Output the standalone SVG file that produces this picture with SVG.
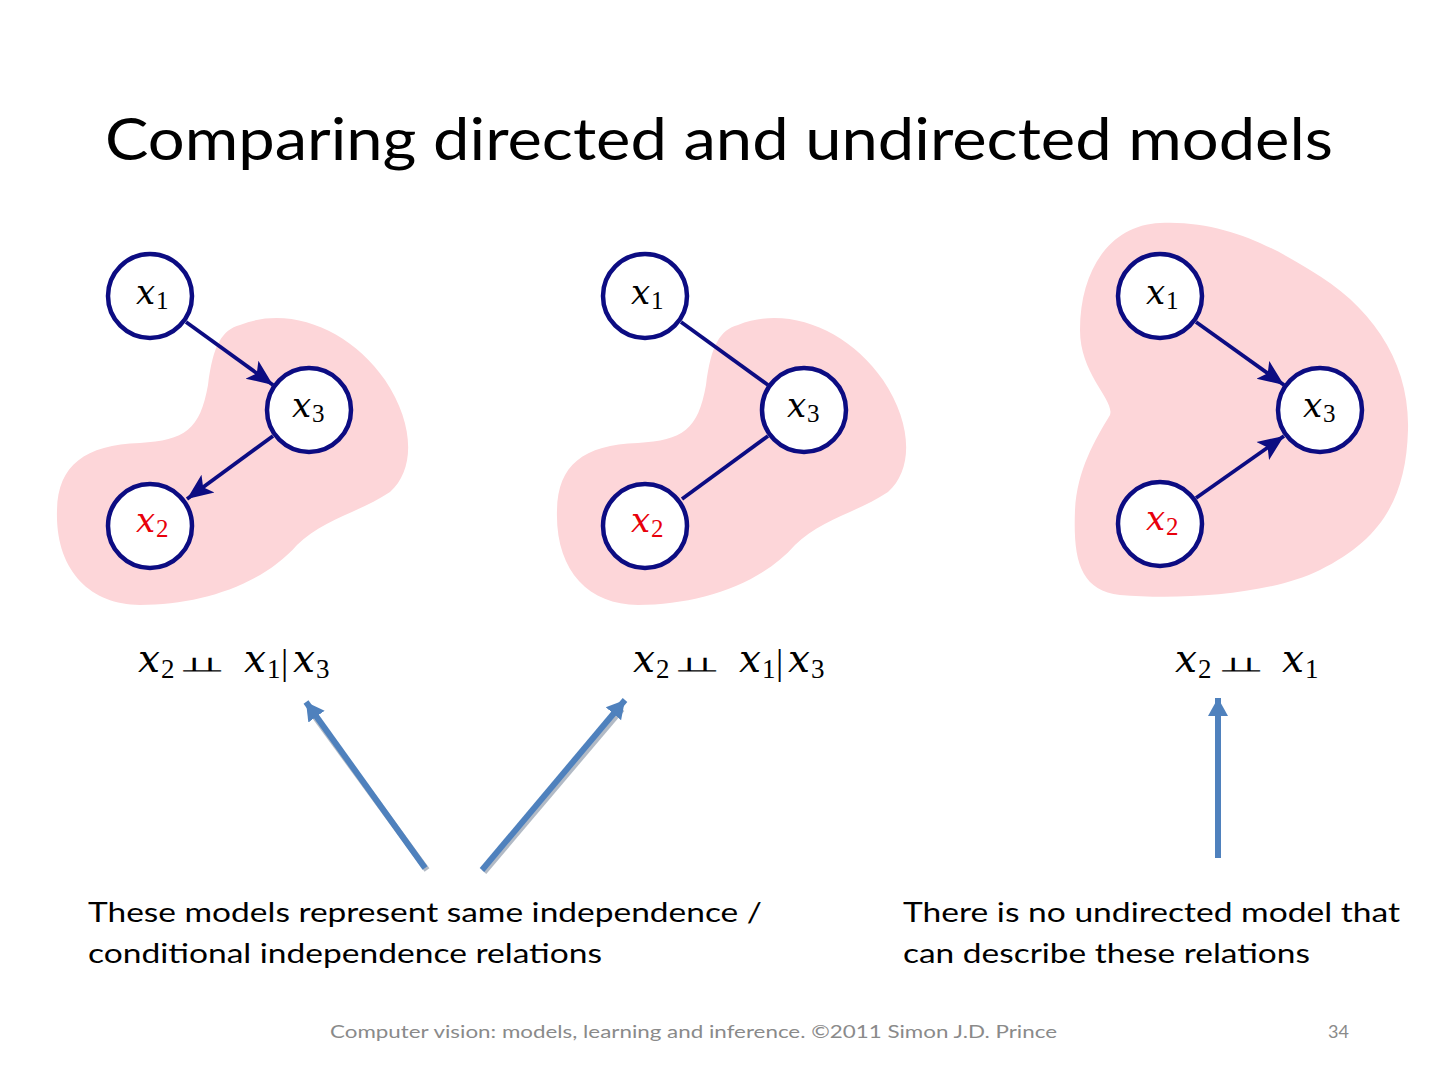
<svg xmlns="http://www.w3.org/2000/svg" width="1440" height="1080" viewBox="0 0 1440 1080">
<defs>
<style>
.blob{fill:#FDD6D9;stroke:none}
.node circle{fill:#fff;stroke:#0C0C82;stroke-width:4.5}
.var{font-family:"DejaVu Serif","Liberation Serif",serif;font-style:italic;font-size:34px;fill:#000}
.var .sub{font-family:"Liberation Serif",serif;font-style:normal;font-size:25px}
.red{fill:#E8000B}
.edge{stroke:#0C0C82;stroke-width:3.8;fill:none}
.formula{font-family:"Liberation Serif","DejaVu Serif",serif;font-size:27px;fill:#000}
.formula .it{font-family:"DejaVu Serif",serif;font-style:italic;font-size:39px}
.sym{font-family:"DejaVu Sans","DejaVu Serif",sans-serif;font-size:21px;fill:#000}
.body{font-family:"Lato","Open Sans",sans-serif;font-size:27px;fill:#000}
.foot{font-family:"Lato","Open Sans",sans-serif;font-size:18px;fill:#8A8A8A}
.blue{stroke:#4F81BD;stroke-width:6;fill:none}
.shadow{stroke:#7F8C9E;stroke-width:6;fill:none;opacity:0.6}
</style>
<marker id="ah" markerUnits="userSpaceOnUse" markerWidth="30" markerHeight="24" refX="26" refY="12" orient="auto">
<path d="M0,1 L26,12 L0,23 L6,12 Z" fill="#0C0C82"/>
</marker>
<marker id="bh" markerUnits="userSpaceOnUse" markerWidth="22" markerHeight="22" refX="18" refY="11" orient="auto">
<path d="M0,1 L18,11 L0,21 Z" fill="#4F81BD"/>
</marker>
</defs>
<rect width="1440" height="1080" fill="#fff"/>
<text x="719" y="160" text-anchor="middle" font-family="Lato, 'Open Sans', sans-serif" font-size="58" fill="#000" textLength="1228" lengthAdjust="spacingAndGlyphs">Comparing directed and undirected models</text>

<path class="blob" d="M240 325 C290 305,350 330,385 380 C415 425,415 470,390 492 C360 512,322 520,297 545 C262 585,200 605,140 605 C90 605,55 570,57 510 C58 465,85 445,140 443 C185 440,200 430,208 385 C213 345,222 330,240 325 Z"/>
<path class="blob" d="M738 325 C788 305,848 330,883 380 C913 425,913 470,888 492 C858 512,820 520,795 545 C760 585,698 605,638 605 C588 605,555 570,557 510 C558 465,583 445,638 443 C683 440,698 430,706 385 C711 345,720 330,738 325 Z"/>
<path class="blob" d="M1160 223 C1220 220,1270 245,1310 270 C1370 305,1410 360,1408 430 C1406 500,1380 540,1320 570 C1270 595,1180 600,1120 595 C1080 590,1073 560,1075 510 C1077 470,1095 440,1110 415 C1115 400,1080 375,1080 330 C1080 270,1110 225,1160 223 Z"/>

<g id="connectors">
<line class="edge" x1="186" y1="322" x2="273" y2="385" marker-end="url(#ah)"/>
<line class="edge" x1="273" y1="436" x2="187" y2="499" marker-end="url(#ah)"/>
<line class="edge" x1="681" y1="322" x2="768" y2="385"/>
<line class="edge" x1="768" y1="436" x2="682" y2="499"/>
<line class="edge" x1="1196" y1="322" x2="1284" y2="385" marker-end="url(#ah)"/>
<line class="edge" x1="1196" y1="498" x2="1284" y2="436" marker-end="url(#ah)"/>
<line class="shadow" x1="427" y1="870" x2="310" y2="710"/>
<line class="blue" x1="425" y1="868" x2="306" y2="702" marker-end="url(#bh)"/>
<line class="shadow" x1="484" y1="872" x2="622" y2="709"/>
<line class="blue" x1="482" y1="870" x2="625" y2="700" marker-end="url(#bh)"/>
<line class="blue" x1="1218" y1="858" x2="1218" y2="698" marker-end="url(#bh)"/>
</g>

<g id="p1-x1" class="node"><circle cx="150" cy="296" r="42"/><text class="var" x="136" y="304">x<tspan class="sub" x="156" dy="5">1</tspan></text></g>
<g id="p1-x3" class="node"><circle cx="309" cy="410" r="42"/><text class="var" x="292" y="417">x<tspan class="sub" x="312" dy="5">3</tspan></text></g>
<g id="p1-x2" class="node"><circle cx="150" cy="526" r="42"/><text class="var red" x="136" y="532">x<tspan class="sub" x="156" dy="5">2</tspan></text></g>

<g id="p2-x1" class="node"><circle cx="645" cy="296" r="42"/><text class="var" x="631" y="304">x<tspan class="sub" x="651" dy="5">1</tspan></text></g>
<g id="p2-x3" class="node"><circle cx="804" cy="410" r="42"/><text class="var" x="787" y="417">x<tspan class="sub" x="807" dy="5">3</tspan></text></g>
<g id="p2-x2" class="node"><circle cx="645" cy="526" r="42"/><text class="var red" x="631" y="532">x<tspan class="sub" x="651" dy="5">2</tspan></text></g>

<g id="p3-x1" class="node"><circle cx="1160" cy="296" r="42"/><text class="var" x="1146" y="304">x<tspan class="sub" x="1166" dy="5">1</tspan></text></g>
<g id="p3-x3" class="node"><circle cx="1320" cy="410" r="42"/><text class="var" x="1303" y="417">x<tspan class="sub" x="1323" dy="5">3</tspan></text></g>
<g id="p3-x2" class="node"><circle cx="1160" cy="524" r="42"/><text class="var red" x="1146" y="530">x<tspan class="sub" x="1166" dy="5">2</tspan></text></g>

<g id="f1">
<text class="formula" x="138" y="672"><tspan class="it">x</tspan><tspan x="161" y="678">2</tspan><tspan class="it" x="244" y="672">x</tspan><tspan x="267" y="678">1</tspan><tspan x="281" y="674" font-size="36">|</tspan><tspan class="it" x="293" y="672">x</tspan><tspan x="316" y="678">3</tspan></text>
<text class="sym" x="184" y="672" textLength="38" lengthAdjust="spacingAndGlyphs">⫫</text>
</g>
<g id="f2">
<text class="formula" x="633" y="672"><tspan class="it">x</tspan><tspan x="656" y="678">2</tspan><tspan class="it" x="739" y="672">x</tspan><tspan x="762" y="678">1</tspan><tspan x="776" y="674" font-size="36">|</tspan><tspan class="it" x="788" y="672">x</tspan><tspan x="811" y="678">3</tspan></text>
<text class="sym" x="679" y="672" textLength="38" lengthAdjust="spacingAndGlyphs">⫫</text>
</g>
<g id="f3">
<text class="formula" x="1175" y="672"><tspan class="it">x</tspan><tspan x="1198" y="678">2</tspan><tspan class="it" x="1282" y="672">x</tspan><tspan x="1305" y="678">1</tspan></text>
<text class="sym" x="1223" y="672" textLength="38" lengthAdjust="spacingAndGlyphs">⫫</text>
</g>

<text class="body" x="88" y="922" textLength="674" lengthAdjust="spacingAndGlyphs">These models represent same independence /</text>
<text class="body" x="88" y="963" textLength="514" lengthAdjust="spacingAndGlyphs">conditional independence relations</text>
<text class="body" x="903" y="922" textLength="497" lengthAdjust="spacingAndGlyphs">There is no undirected model that</text>
<text class="body" x="903" y="963" textLength="407" lengthAdjust="spacingAndGlyphs">can describe these relations</text>

<text class="foot" x="330" y="1038" textLength="727" lengthAdjust="spacingAndGlyphs">Computer vision: models, learning and inference.  ©2011 Simon J.D. Prince</text>
<text class="foot" x="1328" y="1038">34</text>
</svg>
